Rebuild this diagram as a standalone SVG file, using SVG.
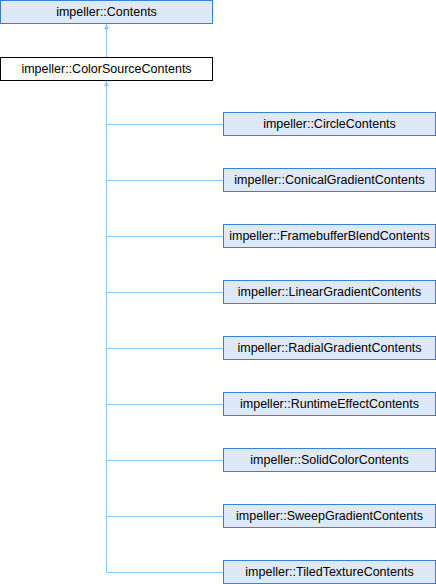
<svg xmlns="http://www.w3.org/2000/svg" width="436" height="584" viewBox="0 0 436 584">
<style>
.n rect{fill:#dde8f8;stroke:#3b7fd4;stroke-width:1}
.w rect{fill:#ffffff;stroke:#000000;stroke-width:1}
text{font-family:"Liberation Sans",Arial,sans-serif;font-size:12.5px;fill:#000;text-anchor:middle}
.e{fill:none;stroke:#8ec8ec;stroke-width:1}
</style>
<defs>
<marker id="a" viewBox="0 0 10 10" refX="10" refY="5" markerWidth="5" markerHeight="5" orient="auto" markerUnits="userSpaceOnUse">
<path d="M0,0 L10,5 L0,10 z" fill="#8ec8ec"/>
</marker>
</defs>
<g id="connectors">
<path class="e" d="M106.5,57 V24" marker-end="url(#a)"/>
<path class="e" d="M106.5,572.5 V81" marker-end="url(#a)"/>
<path class="e" d="M106.5,124.5 H223"/>
<path class="e" d="M106.5,180.5 H223"/>
<path class="e" d="M106.5,236.5 H223"/>
<path class="e" d="M106.5,292.5 H223"/>
<path class="e" d="M106.5,348.5 H223"/>
<path class="e" d="M106.5,404.5 H223"/>
<path class="e" d="M106.5,460.5 H223"/>
<path class="e" d="M106.5,516.5 H223"/>
<path class="e" d="M106.5,572.5 H223"/>
</g>
<g id="Contents" class="n"><rect x="0.5" y="0.5" width="212" height="23"/><text x="106.5" y="16">impeller::Contents</text></g>
<g id="ColorSourceContents" class="w"><rect x="0.5" y="57.5" width="212" height="23"/><text x="106.5" y="73">impeller::ColorSourceContents</text></g>
<g id="CircleContents" class="n"><rect x="223.5" y="112.5" width="212" height="23"/><text x="329.5" y="128">impeller::CircleContents</text></g>
<g id="ConicalGradientContents" class="n"><rect x="223.5" y="168.5" width="212" height="23"/><text x="329.5" y="184">impeller::ConicalGradientContents</text></g>
<g id="FramebufferBlendContents" class="n"><rect x="223.5" y="224.5" width="212" height="23"/><text x="329.5" y="240">impeller::FramebufferBlendContents</text></g>
<g id="LinearGradientContents" class="n"><rect x="223.5" y="280.5" width="212" height="23"/><text x="329.5" y="296">impeller::LinearGradientContents</text></g>
<g id="RadialGradientContents" class="n"><rect x="223.5" y="336.5" width="212" height="23"/><text x="329.5" y="352">impeller::RadialGradientContents</text></g>
<g id="RuntimeEffectContents" class="n"><rect x="223.5" y="392.5" width="212" height="23"/><text x="329.5" y="408">impeller::RuntimeEffectContents</text></g>
<g id="SolidColorContents" class="n"><rect x="223.5" y="448.5" width="212" height="23"/><text x="329.5" y="464">impeller::SolidColorContents</text></g>
<g id="SweepGradientContents" class="n"><rect x="223.5" y="504.5" width="212" height="23"/><text x="329.5" y="520">impeller::SweepGradientContents</text></g>
<g id="TiledTextureContents" class="n"><rect x="223.5" y="560.5" width="212" height="23"/><text x="329.5" y="576">impeller::TiledTextureContents</text></g>
</svg>
